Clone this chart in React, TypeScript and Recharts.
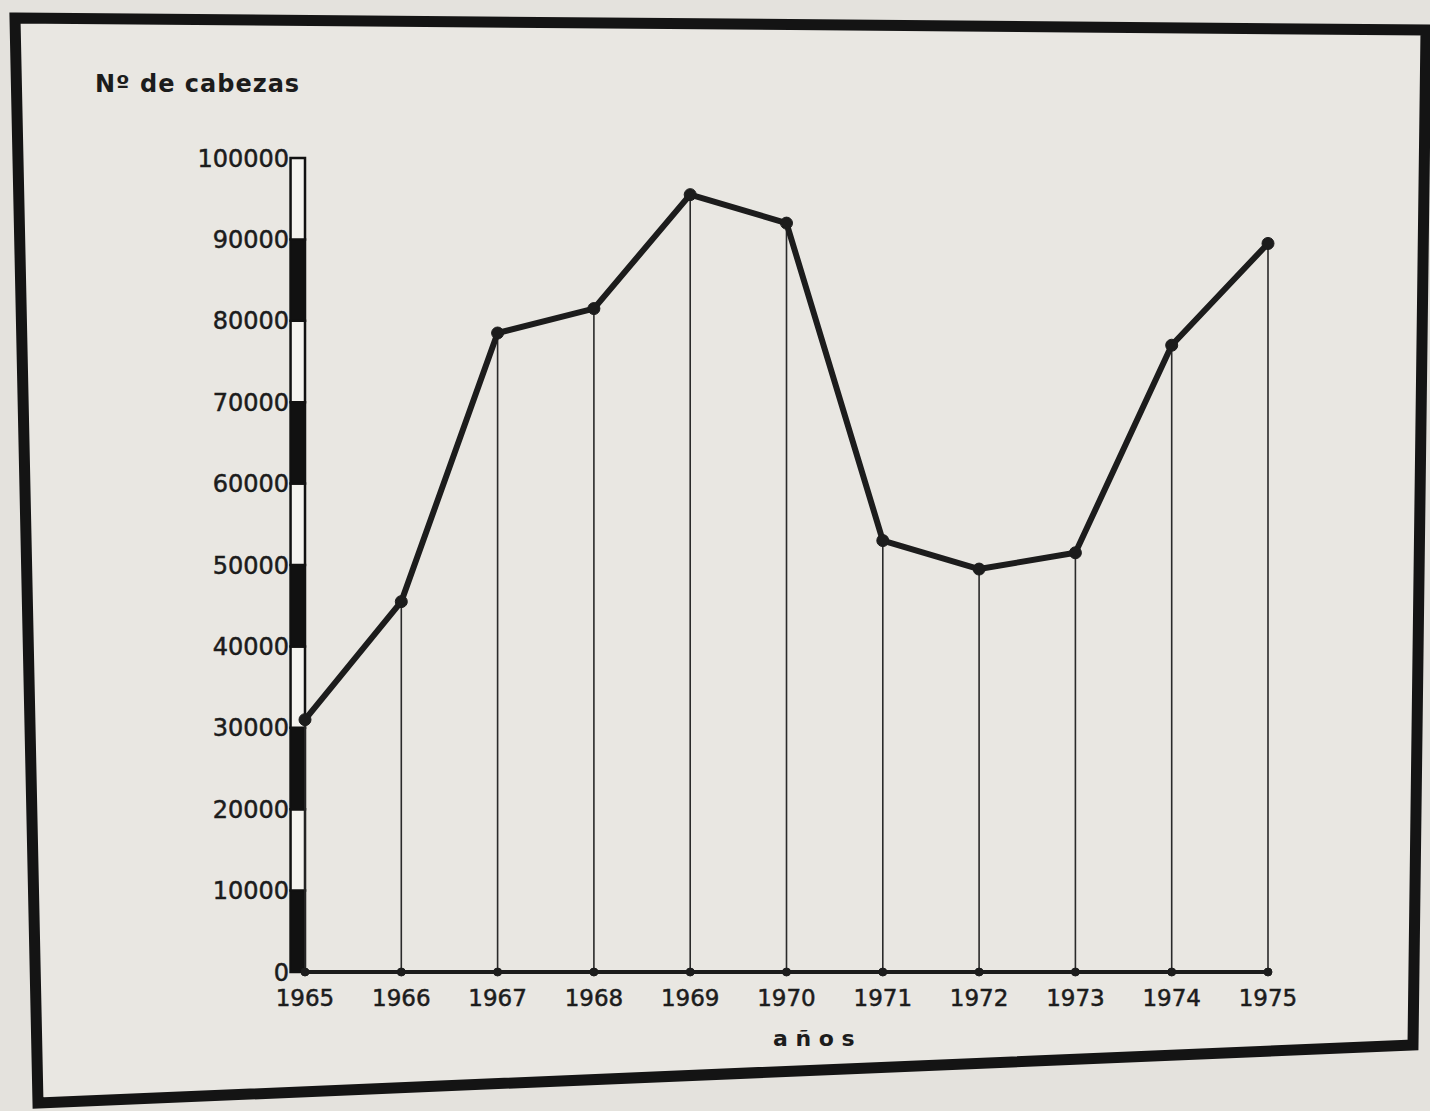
import React from 'react';
import { LineChart, Line, XAxis, YAxis, ReferenceLine, ReferenceArea, ReferenceDot } from 'recharts';

const years: number[] = [1965, 1966, 1967, 1968, 1969, 1970, 1971, 1972, 1973, 1974, 1975];
const heads: number[] = [31000, 45500, 78500, 81500, 95500, 92000, 53000, 49500, 51500, 77000, 89500];
const yTicks: number[] = [0, 10000, 20000, 30000, 40000, 50000, 60000, 70000, 80000, 90000, 100000];
const yTitle = 'Nº de cabezas';
const xTitle = 'a ñ o s';

const data = years.map((year, i) => ({ year, heads: heads[i] }));
const bands = yTicks.slice(0, -1).map((from, i) => ({ from, to: yTicks[i + 1], dark: i % 2 === 0 }));

const INK = '#1c1c1c';
const FONT = '"DejaVu Sans", sans-serif';

export default function App() {
  return (
    <div style={{ position: 'absolute', left: 0, top: 0, width: 1430, height: 1111, background: '#e4e2dd', overflow: 'hidden' }}>
      <svg width={1430} height={1111} style={{ position: 'absolute', left: 0, top: 0 }}>
        <polygon points="15,18 1426,30 1413,1045 38,1103" fill="#e9e7e2" stroke="#141414" strokeWidth={11} strokeLinejoin="miter" />
      </svg>
      <div style={{ position: 'absolute', left: 95, top: 70, fontFamily: FONT, fontWeight: 'bold', fontSize: 24, letterSpacing: 1, color: INK }}>
        {yTitle}
      </div>
      <div style={{ position: 'absolute', left: 773, top: 1026, fontFamily: FONT, fontWeight: 'bold', fontSize: 22, color: INK, whiteSpace: 'pre' }}>
        {xTitle}
      </div>
      <div style={{ position: 'absolute', left: 0, top: 0 }}>
        <LineChart width={1430} height={1111} data={data} margin={{ top: 158, right: 162, bottom: 99, left: 205 }}>
          <XAxis
            dataKey="year"
            type="number"
            domain={[1965, 1975]}
            ticks={years}
            interval={0}
            allowDecimals={false}
            tickLine={false}
            axisLine={{ stroke: INK, strokeWidth: 4 }}
            tick={{ fill: INK, fontSize: 23, fontFamily: FONT, stroke: INK, strokeWidth: 0.5 }}
            tickMargin={12}
            height={40}
          />
          <YAxis
            type="number"
            domain={[0, 100000]}
            ticks={yTicks}
            interval={0}
            axisLine={false}
            tickLine={false}
            tickSize={0}
            tickMargin={16}
            width={100}
            tick={{ fill: INK, fontSize: 24, fontFamily: FONT, stroke: INK, strokeWidth: 0.5 }}
          />
          {bands.map((b) => (
            <ReferenceArea
              key={'band' + b.from}
              x1={1965 - 0.15}
              x2={1965}
              y1={b.from}
              y2={b.to}
              ifOverflow="visible"
              fill={b.dark ? '#111111' : '#f4f3ef'}
              fillOpacity={1}
              stroke="#111111"
              strokeWidth={2.5}
            />
          ))}
          {data.map((d) => (
            <ReferenceLine
              key={'drop' + d.year}
              segment={[{ x: d.year, y: 0 }, { x: d.year, y: d.heads }]}
              stroke="#2a2a2a"
              strokeWidth={1.6}
              ifOverflow="visible"
            />
          ))}
          {data.map((d) => (
            <ReferenceDot key={'base' + d.year} x={d.year} y={0} r={4} fill={INK} stroke={INK} ifOverflow="visible" />
          ))}
          <Line
            dataKey="heads"
            type="linear"
            stroke={INK}
            strokeWidth={6}
            strokeLinejoin="round"
            dot={{ r: 6, fill: INK, stroke: INK, strokeWidth: 1 }}
            isAnimationActive={false}
          />
        </LineChart>
      </div>
    </div>
  );
}
